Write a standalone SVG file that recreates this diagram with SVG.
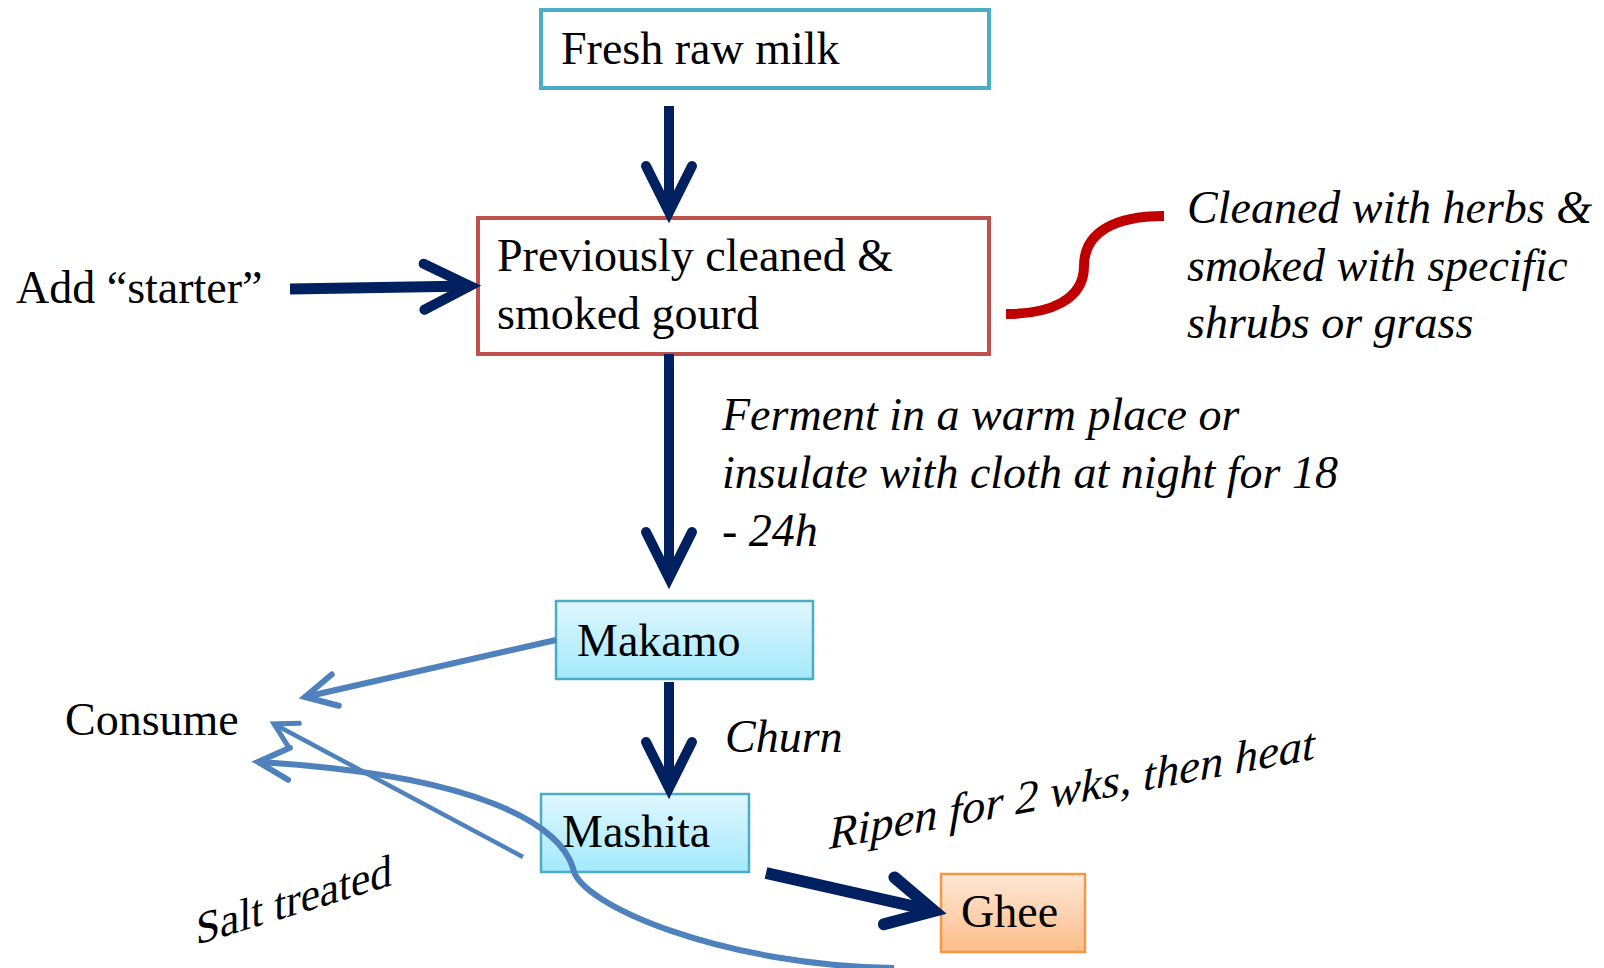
<svg xmlns="http://www.w3.org/2000/svg" width="1604" height="968" viewBox="0 0 1604 968">
<style>
text{font-family:"Liberation Serif","Times New Roman",serif;font-size:46px;fill:#000}
.it{font-style:italic}
.navy{fill:none;stroke:#002060;stroke-linecap:butt}
.blue{fill:none;stroke:#4F81BD}
</style>
<defs>
<linearGradient id="gCyan" x1="0" y1="0" x2="0" y2="1">
<stop offset="0" stop-color="#E0F7FE"/><stop offset="1" stop-color="#A3E9FB"/>
</linearGradient>
<linearGradient id="gOrange" x1="0" y1="0" x2="0" y2="1">
<stop offset="0" stop-color="#FFE7D6"/><stop offset="1" stop-color="#FBBD89"/>
</linearGradient>
<marker id="navyHead" markerUnits="userSpaceOnUse" viewBox="-60 -35 70 70" refX="0" refY="0" markerWidth="70" markerHeight="70" orient="auto" overflow="visible">
<path d="M-46,-23 L0,0 L-46,23" fill="none" stroke="#002060" stroke-width="10" stroke-linecap="round" stroke-linejoin="miter"/>
</marker>
<marker id="navyHeadB" markerUnits="userSpaceOnUse" viewBox="-60 -35 70 70" refX="0" refY="0" markerWidth="70" markerHeight="70" orient="auto" overflow="visible">
<path d="M-46,-24 L0,0 L-46,24" fill="none" stroke="#002060" stroke-width="12" stroke-linecap="round" stroke-linejoin="miter"/>
</marker>
<marker id="blueHead" markerUnits="userSpaceOnUse" viewBox="-45 -25 55 50" refX="0" refY="0" markerWidth="55" markerHeight="50" orient="auto" overflow="visible">
<path d="M-31,-16 L0,0 L-31,16" fill="none" stroke="#4F81BD" stroke-width="6" stroke-linecap="round"/>
</marker>
<marker id="blueHeadS" markerUnits="userSpaceOnUse" viewBox="-35 -20 45 40" refX="0" refY="0" markerWidth="45" markerHeight="40" orient="auto" overflow="visible">
<path d="M-22,-12.5 L0,0 L-22,12.5" fill="none" stroke="#4F81BD" stroke-width="5" stroke-linecap="round"/>
</marker>
</defs>

<g id="node-milk">
<rect x="541" y="10" width="448" height="78" fill="#fff" stroke="#4BACC6" stroke-width="4"/>
<text x="561" y="64">Fresh raw milk</text>
</g>

<g id="node-gourd">
<rect x="478" y="218" width="511" height="136" fill="#fff" stroke="#C0504D" stroke-width="4"/>
<text x="497" y="271">Previously cleaned &amp;</text>
<text x="497" y="329">smoked gourd</text>
</g>

<g id="label-starter">
<text x="16" y="303">Add “starter”</text>
</g>

<g id="label-cleaned">
<text class="it" x="1187" y="223">Cleaned with herbs &amp;</text>
<text class="it" x="1187" y="281">smoked with specific</text>
<text class="it" x="1187" y="338">shrubs or grass</text>
</g>

<g id="label-ferment">
<text class="it" x="722" y="430">Ferment in a warm place or</text>
<text class="it" x="722" y="488">insulate with cloth at night for 18</text>
<text class="it" x="722" y="546">- 24h</text>
</g>

<g id="node-makamo">
<rect x="556" y="601" width="257" height="78" fill="url(#gCyan)" stroke="#4BACC6" stroke-width="2.5"/>
<text x="577" y="656">Makamo</text>
</g>

<g id="label-churn">
<text class="it" x="725" y="752">Churn</text>
</g>

<g id="node-mashita">
<rect x="541" y="794" width="208" height="78" fill="url(#gCyan)" stroke="#4BACC6" stroke-width="2.5"/>
<text x="562" y="847">Mashita</text>
</g>

<g id="node-ghee">
<rect x="941" y="874" width="144" height="78" fill="url(#gOrange)" stroke="#F79646" stroke-width="2.5"/>
<text x="961" y="927">Ghee</text>
</g>

<g id="label-consume">
<text x="65" y="735">Consume</text>
</g>

<g id="label-ripen">
<text class="it" transform="translate(829,849) skewY(-10.5)" textLength="486" lengthAdjust="spacingAndGlyphs">Ripen for 2 wks, then heat</text>
</g>

<g id="label-salt">
<text transform="translate(196,945) skewY(-17)" textLength="196" lengthAdjust="spacingAndGlyphs">Salt treated</text>
</g>

<g id="connectors">
<path class="navy" d="M669,106 L669,212" stroke-width="10" marker-end="url(#navyHead)"/>
<path class="navy" d="M290,289 L470,286" stroke-width="11" marker-end="url(#navyHead)"/>
<path class="navy" d="M669,354 L669,578" stroke-width="10" marker-end="url(#navyHead)"/>
<path class="navy" d="M669,682 L669,788" stroke-width="10" marker-end="url(#navyHead)"/>
<path class="navy" d="M766,873 L934,911" stroke-width="12" marker-end="url(#navyHeadB)"/>
<path d="M1006,314 C1050,314 1084,300 1084,266 C1084,232 1115,216 1164,216" fill="none" stroke="#C00000" stroke-width="10"/>
<path class="blue" d="M556,640 L305,697" stroke-width="6" marker-end="url(#blueHead)"/>
<path class="blue" d="M523,857 L274,724" stroke-width="4.5" marker-end="url(#blueHeadS)"/>
<path class="blue" d="M894,968 C725,966 578,905 573,868 C560,825 480,775 258,762" stroke-width="6" marker-end="url(#blueHead)"/>
</g>
</svg>
